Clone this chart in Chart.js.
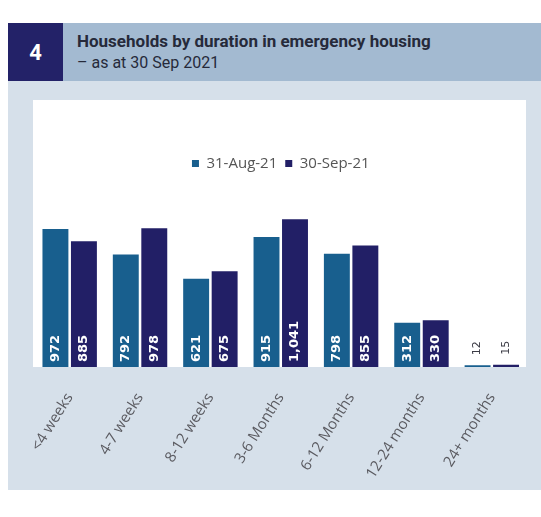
<!DOCTYPE html>
<html>
<head>
<meta charset="utf-8">
<script src="https://cdn.jsdelivr.net/npm/chart.js@4"></script>
<style>
  body { margin: 0; background: #fff; width: 541px; height: 517px; overflow: hidden; position: relative; font-family: Roboto, sans-serif; }
  .header { position: absolute; left: 8px; top: 23px; width: 533px; height: 58px; background: #a3bad1; }
  .num { position: absolute; left: 0; top: 0; width: 55px; height: 58px; background: #232268; color: #fff; font: bold 22px Roboto, sans-serif; display: flex; align-items: center; justify-content: center; }
  .title { position: absolute; left: 69px; top: 8px; font: bold 17px Roboto, sans-serif; color: #262a3a; white-space: nowrap; }
  .sub { position: absolute; left: 69px; top: 30px; font: 16px Roboto, sans-serif; color: #262a3a; white-space: nowrap; }
  .panel { position: absolute; left: 8px; top: 81px; width: 533px; height: 409px; background: #d6e0ea; }
  #durationChart { position: absolute; left: 33px; top: 100px; }
</style>
</head>
<body>
<div class="header">
  <div class="num">4</div>
  <div class="title">Households by duration in emergency housing</div>
  <div class="sub">– as at 30 Sep 2021</div>
</div>
<div class="panel"></div>
<canvas id="durationChart" width="494" height="380" aria-label="Households by duration in emergency housing" role="img"></canvas>

<script>
const durations = ["<4 weeks", "4-7 weeks", "8-12 weeks", "3-6 Months", "6-12 Months", "12-24 months", "24+ months"];
const aug21 = [972, 792, 621, 915, 798, 312, 12];
const sep21 = [885, 978, 675, 1041, 855, 330, 15];
const seriesNames = ["31-Aug-21", "30-Sep-21"];

// white card behind the plot, stopping at the baseline
const whiteArea = {
  id: "whiteArea",
  beforeDraw: function (chart) {
    const ctx = chart.ctx;
    ctx.save();
    ctx.fillStyle = "#ffffff";
    ctx.fillRect(0, 0, chart.width - 1, chart.chartArea.bottom);
    ctx.restore();
  },
};

// vertical value labels, inside the bar when it fits, above it otherwise
const barLabels = {
  id: "barLabels",
  afterDatasetsDraw: function (chart) {
    const ctx = chart.ctx;
    chart.data.datasets.forEach(function (ds, i) {
      chart.getDatasetMeta(i).data.forEach(function (bar, j) {
        const text = ds.data[j].toLocaleString("en-US");
        ctx.save();
        ctx.font = "bold 13px 'DejaVu Sans', sans-serif";
        const inside = bar.base - bar.y > ctx.measureText(text).width + 10;
        if (!inside) ctx.font = "11px 'DejaVu Sans', sans-serif";
        ctx.translate(bar.x, inside ? bar.base - 5 : bar.y - 10);
        ctx.rotate(-Math.PI / 2);
        ctx.fillStyle = inside ? "#ffffff" : "#3a3a44";
        ctx.textAlign = "left";
        ctx.textBaseline = "middle";
        ctx.fillText(text, 0, 0);
        ctx.restore();
      });
    });
  },
};

new Chart(document.getElementById("durationChart").getContext("2d"), {
  type: "bar",
  data: {
    labels: durations,
    datasets: [
      { label: seriesNames[0], data: aug21, backgroundColor: "#185f8e" },
      { label: seriesNames[1], data: sep21, backgroundColor: "#221f66" },
    ],
  },
  options: {
    responsive: false,
    animation: false,
    categoryPercentage: 0.81,
    barPercentage: 0.91,
    layout: { padding: { top: 48, left: 1.5, right: 0, bottom: 0 } },
    plugins: {
      legend: {
        labels: {
          boxWidth: 7,
          boxHeight: 7,
          padding: 8,
          color: "#555",
          font: { family: "'Open Sans', sans-serif", size: 15 },
        },
      },
      tooltip: { enabled: false },
    },
    scales: {
      x: {
        grid: { display: false },
        border: { display: false },
        ticks: {
          color: "#5a5a60",
          font: { family: "'Open Sans', sans-serif", size: 15 },
          minRotation: 58,
          maxRotation: 58,
          padding: 15,
        },
        afterFit: function (scale) {
          // fixed band for the slanted labels; keep the bars full width
          scale.height = 113;
          scale.paddingLeft = 0;
          scale.paddingRight = 0;
        },
      },
      y: { display: false, min: 0, max: 1310 },
    },
  },
  plugins: [whiteArea, barLabels],
});
</script>
</body>
</html>
